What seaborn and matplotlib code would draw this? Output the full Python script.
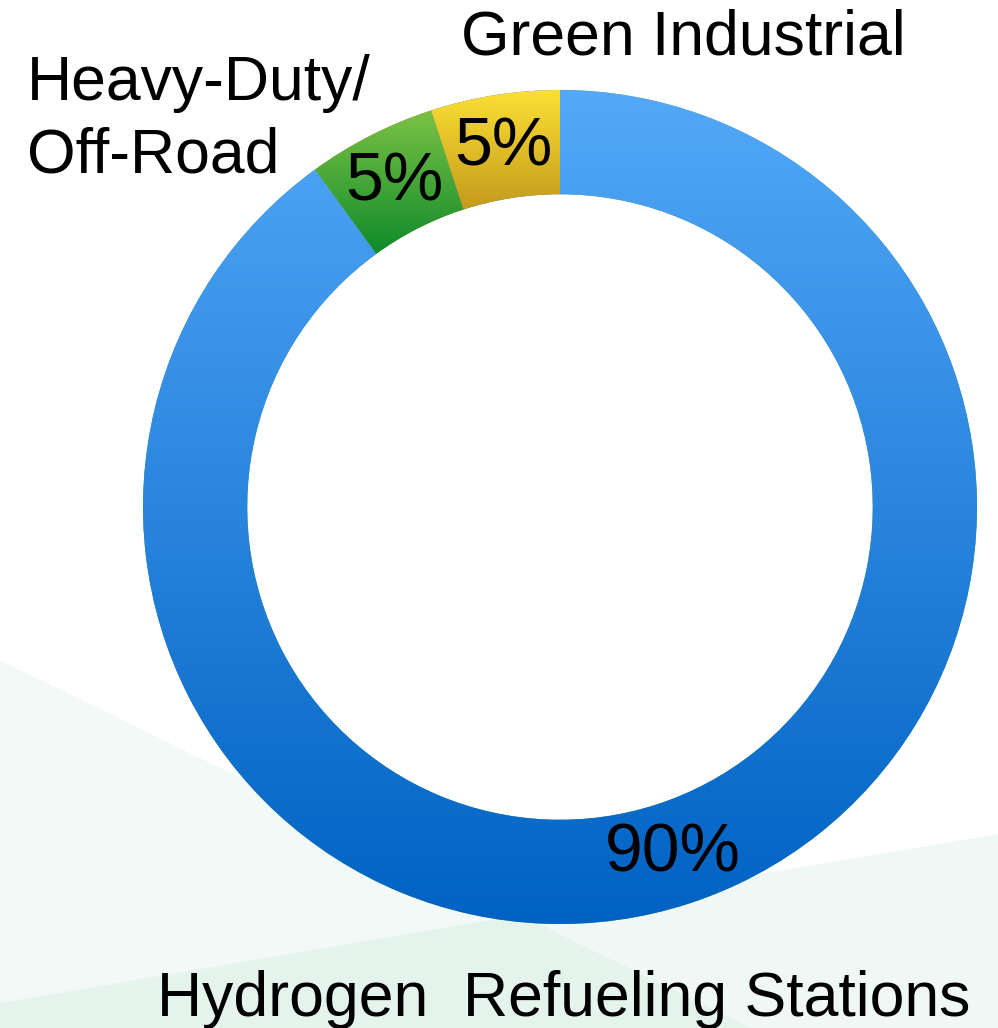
import numpy as np
import seaborn as sns
import matplotlib.pyplot as plt
from matplotlib.colors import LinearSegmentedColormap
from matplotlib.patches import Polygon

# ─── Data ─────────────────────────────────────────────────────────────────────
segments = ["Green Industrial", "Heavy-Duty/\nOff-Road", "Hydrogen  Refueling Stations"]
shares = [5, 5, 90]
# (top colour, bottom colour) of each wedge's vertical gradient
grad_colors = [("#FBE034", "#C49A1C"), ("#7CC244", "#0E8A2B"), ("#53A8F8", "#0062C3")]

sns.set_theme(style="white")
plt.rcParams["font.family"] = ["Liberation Sans", "DejaVu Sans"]

fig = plt.figure(figsize=(9.98, 10.28), dpi=100)
ax = fig.add_axes([0, 0, 1, 1])
ax.set_facecolor("none")

# faint mint background shapes, figure pixel coords (from top)
W, H = 998, 1028
def bg_poly(pts, alpha):
    pts = [(x / W, 1 - y / H) for x, y in pts]
    ax.add_patch(Polygon(pts, closed=True, transform=fig.transFigure, clip_on=False,
                         facecolor="#A8D8C4", edgecolor="none", alpha=alpha, zorder=-2))
bg_poly([(0, 660), (751, 1028), (0, 1028)], 0.15)
bg_poly([(0, 1003), (998, 834), (998, 1028), (0, 1028)], 0.17)

wedges, texts, pcts = ax.pie(
    shares, startangle=90, counterclock=True, radius=1.0,
    wedgeprops=dict(width=0.25, linewidth=0),
    autopct="%1.0f%%", pctdistance=0.874,
    textprops=dict(fontsize=49, color="black"),
)

# vertical gradient fill, clipped to each wedge
for w, (c_top, c_bot) in zip(wedges, grad_colors):
    ext = w.get_path().get_extents()
    cmap = LinearSegmentedColormap.from_list("g", [c_bot, c_top])
    grad = np.linspace(0, 1, 256).reshape(-1, 1)
    im = ax.imshow(grad, extent=[ext.x0, ext.x1, ext.y0, ext.y1], origin="lower",
                   cmap=cmap, aspect="auto", interpolation="bilinear", zorder=1)
    im.set_clip_path(w)
for t in pcts:
    t.set_zorder(3)

# 1 data unit = 417 px, ring centre at pixel (560, 507)
ax.set_xlim(-560 / 417, (998 - 560) / 417)
ax.set_ylim(-(1028 - 507) / 417, 507 / 417)
ax.set_aspect("auto")
ax.axis("off")

fs = 45
ax.text(0.295, 1.084, segments[0], ha="center", va="baseline", fontsize=fs, color="black")
heavy = segments[1].split("\n")
ax.text(-1.278, 0.976, heavy[0], ha="left", va="baseline", fontsize=fs, color="black")
ax.text(-1.278, 0.801, heavy[1], ha="left", va="baseline", fontsize=fs, color="black")
ax.text(0.01, -1.221, segments[2], ha="center", va="baseline", fontsize=fs, color="black")

fig.savefig("out.png", dpi=100, facecolor="white")
